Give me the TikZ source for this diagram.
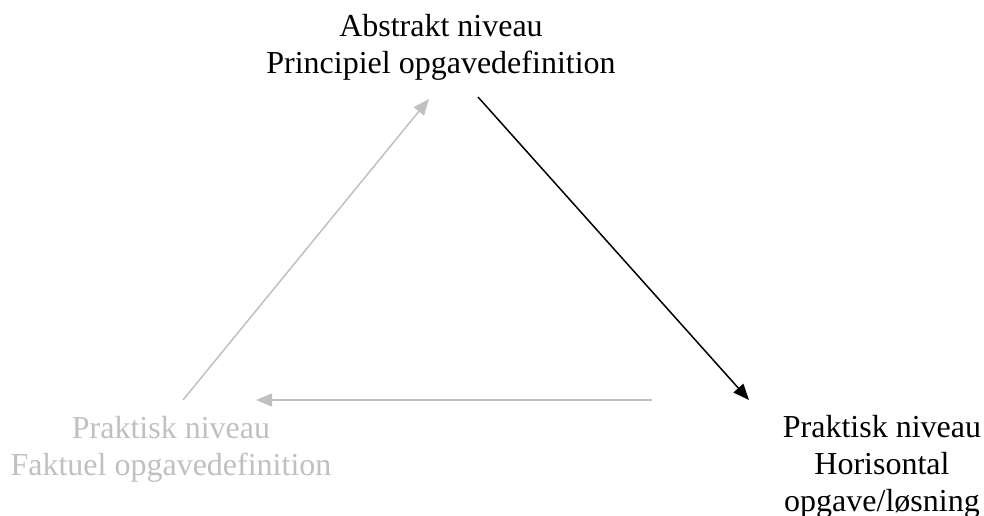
\documentclass[tikz,border=0pt]{standalone}
\usepackage{fontspec}
\setmainfont{Liberation Serif}
\usetikzlibrary{arrows.meta}
\definecolor{lightgray}{HTML}{C0C0C0}
\tikzset{
  label/.style={align=center, inner sep=0pt, anchor=base, font=\fontsize{32}{36.8}\selectfont},
  conn/.style={line width=1.5pt, -{Triangle[length=16pt,width=13pt]}},
}
\begin{document}
\begin{tikzpicture}[x=1pt,y=-1pt]
\useasboundingbox (0,0) rectangle (984,515);
\node[label] (top) at (441,73) {Abstrakt niveau\\Principiel opgavedefinition};
\node[label, text=lightgray] (left) at (171,475) {Praktisk niveau\\Faktuel opgavedefinition};
\node[label] (right) at (882,511) {Praktisk niveau\\Horisontal\\opgave/løsning};
\coordinate (a1) at (183,400);
\coordinate (a2) at (429,99);
\coordinate (b1) at (478,97);
\coordinate (b2) at (749,400);
\coordinate (c1) at (652,400);
\coordinate (c2) at (256,400);
\draw[conn, lightgray] (a1) -- (a2);
\draw[conn, black] (b1) -- (b2);
\draw[conn, lightgray] (c1) -- (c2);
\end{tikzpicture}
\end{document}
